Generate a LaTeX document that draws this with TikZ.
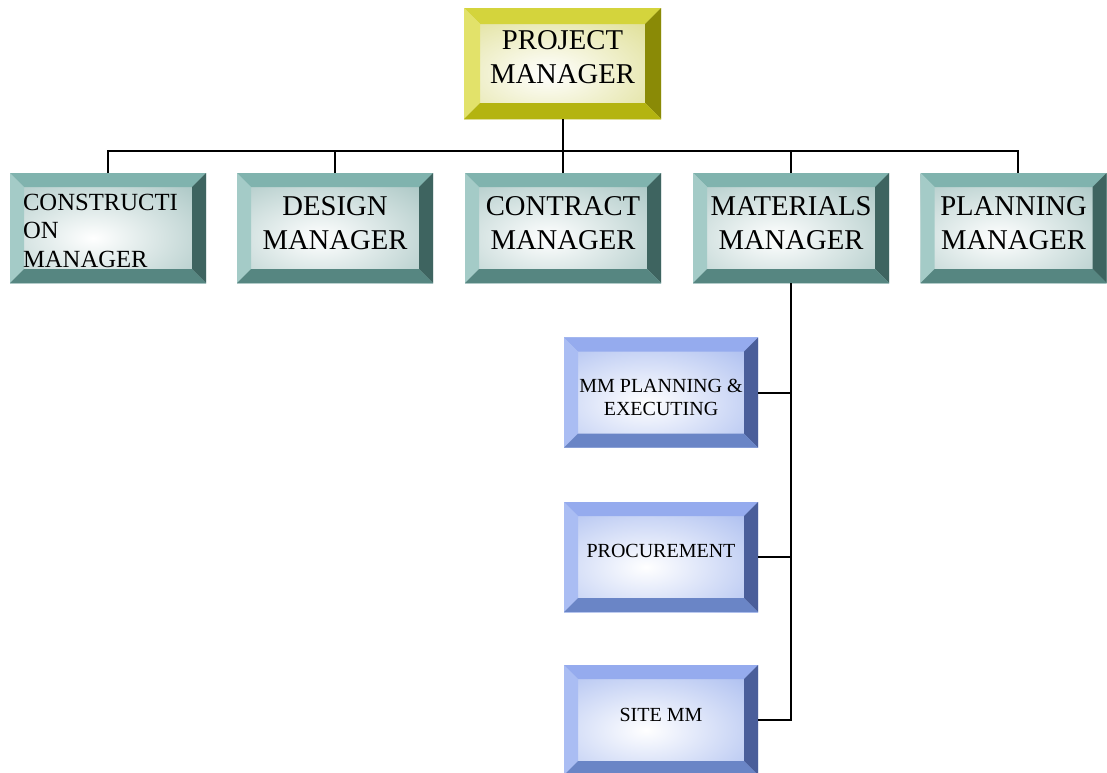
\documentclass[tikz,border=0pt]{standalone}
\usepackage{fontspec}
\setmainfont{Liberation Serif}
\usetikzlibrary{calc}

% bevel palettes: top, left, right, bottom facets and face tint
\definecolor{goldTop}{HTML}{D4D43C}
\definecolor{goldLeft}{HTML}{E2E26A}
\definecolor{goldRight}{HTML}{8A8A06}
\definecolor{goldBot}{HTML}{B4B410}
\definecolor{goldFace}{HTML}{D2D26A}

\definecolor{tealTop}{HTML}{80B3AE}
\definecolor{tealLeft}{HTML}{A4CBC7}
\definecolor{tealRight}{HTML}{3E6460}
\definecolor{tealBot}{HTML}{568681}
\definecolor{tealFace}{HTML}{8AB1AE}

\definecolor{blueTop}{HTML}{95ABEE}
\definecolor{blueLeft}{HTML}{AABDF3}
\definecolor{blueRight}{HTML}{4A5E9A}
\definecolor{blueBot}{HTML}{6A85C6}
\definecolor{blueFace}{HTML}{8DA6EA}

\tikzset{
  bevel depth/.store in=\bevd, bevel depth=14,
  boxsize/.style 2 args={minimum width=#1*0.75pt, minimum height=#2*0.75pt},
  % last baseline of the label sits #1 px below the box centre
  baseline below/.style={text height=#1*1.5pt, text depth=0pt},
  % (top-aligned) baseline of the label sits #1 px above the box centre
  baseline above/.style={text height=0pt, text depth=#1*1.5pt},
  bevelbox/.style={
    inner sep=0pt, outer sep=0pt, align=center,
    path picture={
      \coordinate (bvc) at (path picture bounding box.center);
      \coordinate (bvnw) at (path picture bounding box.north west);
      \coordinate (bvne) at (path picture bounding box.north east);
      \coordinate (bvsw) at (path picture bounding box.south west);
      \coordinate (bvse) at (path picture bounding box.south east);
      % shaded face
      \shade[inner color=white, outer color=#1Face]
        ($(bvc)+(-215,-95)$) rectangle ($(bvc)+(185,115)$);
      % bevel facets
      \fill[#1Top] (bvnw) -- (bvne) -- ($(bvne)+(-\bevd,\bevd)$) -- ($(bvnw)+(\bevd,\bevd)$) -- cycle;
      \fill[#1Left] (bvnw) -- ($(bvnw)+(\bevd,\bevd)$) -- ($(bvsw)+(\bevd,-\bevd)$) -- (bvsw) -- cycle;
      \fill[#1Right] (bvne) -- (bvse) -- ($(bvse)+(-\bevd,-\bevd)$) -- ($(bvne)+(-\bevd,\bevd)$) -- cycle;
      \fill[#1Bot] (bvsw) -- (bvse) -- ($(bvse)+(-\bevd,-\bevd)$) -- ($(bvsw)+(\bevd,-\bevd)$) -- cycle;
    }
  },
  topbox/.style={bevelbox=gold, bevel depth=16, boxsize={197}{111},
    font=\fontsize{21.5}{25.5}\selectfont, baseline below=19.5},
  headbox/.style={bevelbox=teal, boxsize={196}{110},
    font=\fontsize{21.5}{25.5}\selectfont, baseline below=21},
  subbox/.style={bevelbox=blue, boxsize={194}{110},
    font=\fontsize{15}{17.25}\selectfont},
  link/.style={line width=1.5pt, black}
}

\begin{document}
\begin{tikzpicture}[x=0.75pt, y=-0.75pt]
  \useasboundingbox (0,0) rectangle (1107,772);
  \clip (0,0) rectangle (1107,772);

  % top level
  \node[topbox] (pm) at (562.5,63.5) {PROJECT\\MANAGER};

  % second level
  \node[headbox, align=left, text width=170*0.75pt,
        font=\fontsize{18.5}{21.4}\selectfont, baseline above=18] (cons) at (108,228)
        {CONSTRUCTI\\ON\\MANAGER};
  \node[headbox] (design) at (335,228) {DESIGN\\MANAGER};
  \node[headbox] (contract) at (563,228) {CONTRACT\\MANAGER};
  \node[headbox] (mat) at (791,228) {MATERIALS\\MANAGER};
  \node[headbox, boxsize={186}{110}] (plan) at (1013.5,228) {PLANNING\\MANAGER};

  % materials sub-units
  \node[subbox, baseline below=23] (mmp) at (661,392.5) {MM PLANNING \&\\EXECUTING};
  \node[subbox, baseline below=0.5] (proc) at (661,557) {PROCUREMENT};
  \node[subbox, baseline below=1.5] (site) at (661,720) {SITE MM};

  % bus under the project manager
  \coordinate (bus) at (563,151);
  \draw[link] (pm.south) -- (pm.south |- bus);
  \draw[link] (cons.north) -- (cons.north |- bus) -- ([xshift=4.5*0.75pt]plan.north |- bus)
              -- ([xshift=4.5*0.75pt]plan.north);
  \draw[link] (design.north) -- (design.north |- bus);
  \draw[link] (contract.north) -- (contract.north |- bus);
  \draw[link] (mat.north) -- (mat.north |- bus);

  % spine of the materials branch
  \draw[link] (mat.south) -- (mat.south |- site.east) -- (site.east);
  \draw[link] (mmp.east) -- (mmp.east -| mat.south);
  \draw[link] (proc.east) -- (proc.east -| mat.south);
\end{tikzpicture}
\end{document}
